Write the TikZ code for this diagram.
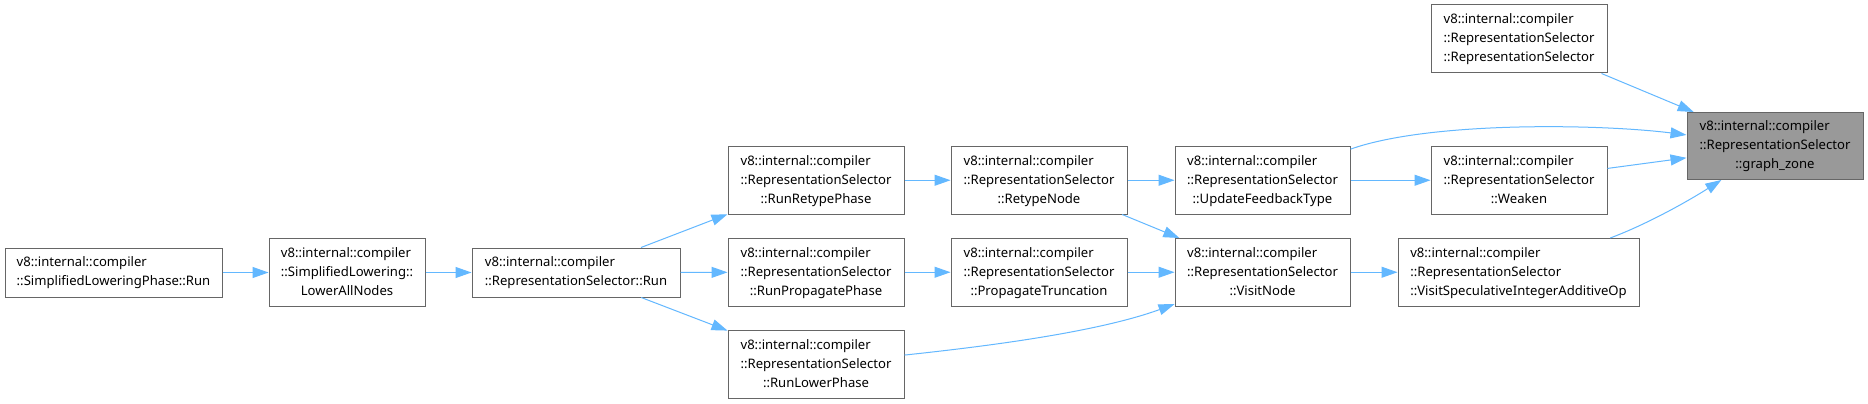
\documentclass[tikz,border=0pt]{standalone}
\usepackage{fontspec}
\setmainfont{Noto Sans}
\usetikzlibrary{arrows.meta}
\definecolor{edgeblue}{HTML}{63B8FF}
\definecolor{boxborder}{HTML}{666666}
\definecolor{hilite}{HTML}{999999}
\newcommand{\lblthree}[3]{\begin{tabular}{@{}l@{}}#1\\#2\\\multicolumn{1}{@{}c@{}}{#3}\end{tabular}}
\newcommand{\lbltwo}[2]{\begin{tabular}{@{}l@{}}#1\\\multicolumn{1}{@{}c@{}}{#2}\end{tabular}}
\begin{document}
\begin{tikzpicture}[x=1pt,y=-1pt,
  font=\fontsize{13.1}{19}\selectfont,
  fnode/.style={draw=boxborder, line width=1pt, fill=white, inner sep=0pt,
    minimum width=176pt, minimum height=67.5pt, text=black},
  twoline/.style={minimum height=49pt},
  hinode/.style={fill=hilite},
  edge/.style={draw=edgeblue, line width=1pt, -{Triangle[length=16pt,width=11pt]}}]
\useasboundingbox[fill=white] (0,0) rectangle (1868,404);

\node[fnode, twoline, minimum width=217pt] (slp) at (113.5,272.5)
  {\lbltwo{v8::internal::compiler}{::SimplifiedLoweringPhase::Run}};
\node[fnode, minimum width=156pt] (lan) at (347,272.5)
  {\lblthree{v8::internal::compiler}{::SimplifiedLowering::}{LowerAllNodes}};
\node[fnode, twoline, minimum width=208pt] (rsrun) at (576,272.5)
  {\lbltwo{v8::internal::compiler}{::RepresentationSelector::Run}};
\node[fnode] (rrp) at (816,180.25)
  {\lblthree{v8::internal::compiler}{::RepresentationSelector}{::RunRetypePhase}};
\node[fnode] (rpp) at (816,272.25)
  {\lblthree{v8::internal::compiler}{::RepresentationSelector}{::RunPropagatePhase}};
\node[fnode] (rlp) at (816,364.5)
  {\lblthree{v8::internal::compiler}{::RepresentationSelector}{::RunLowerPhase}};
\node[fnode] (rtn) at (1039,180.25)
  {\lblthree{v8::internal::compiler}{::RepresentationSelector}{::RetypeNode}};
\node[fnode] (ptr) at (1039,272.25)
  {\lblthree{v8::internal::compiler}{::RepresentationSelector}{::PropagateTruncation}};
\node[fnode, minimum width=175pt] (uft) at (1262.5,180.25)
  {\lblthree{v8::internal::compiler}{::RepresentationSelector}{::UpdateFeedbackType}};
\node[fnode, minimum width=175pt] (vn) at (1262.5,272.25)
  {\lblthree{v8::internal::compiler}{::RepresentationSelector}{::VisitNode}};
\node[fnode, minimum height=68pt] (rsrs) at (1519,39)
  {\lblthree{v8::internal::compiler}{::RepresentationSelector}{::RepresentationSelector}};
\node[fnode] (wk) at (1519,180.25)
  {\lblthree{v8::internal::compiler}{::RepresentationSelector}{::Weaken}};
\node[fnode, minimum width=241pt] (vsi) at (1518.5,272.25)
  {\lblthree{v8::internal::compiler}{::RepresentationSelector}{::VisitSpeculativeIntegerAdditiveOp}};
\node[fnode, hinode, minimum height=67pt] (gz) at (1775,146)
  {\lblthree{v8::internal::compiler}{::RepresentationSelector}{::graph\_zone}};

\draw[edge] (slp) -- (lan);
\draw[edge] (lan) -- (rsrun);
\draw[edge] (rsrun) -- (rrp);
\draw[edge] (rsrun) -- (rpp);
\draw[edge] (rsrun) -- (rlp);
\draw[edge] (rrp) -- (rtn);
\draw[edge] (rpp) -- (ptr);
\draw[edge] (rlp) .. controls (980,347) and (1095,333) .. (vn);
\draw[edge] (rtn) -- (uft);
\draw[edge] (rtn) -- (vn);
\draw[edge] (ptr) -- (vn);
\draw[edge] (uft) -- (wk);
\draw[edge] (uft) .. controls (1430,121) and (1600,124) .. (gz);
\draw[edge] (vn) -- (vsi);
\draw[edge] (wk) -- (gz);
\draw[edge] (rsrs) -- (gz);
\draw[edge] (vsi) .. controls (1645,225) and (1685,203) .. (gz);
\end{tikzpicture}
\end{document}
